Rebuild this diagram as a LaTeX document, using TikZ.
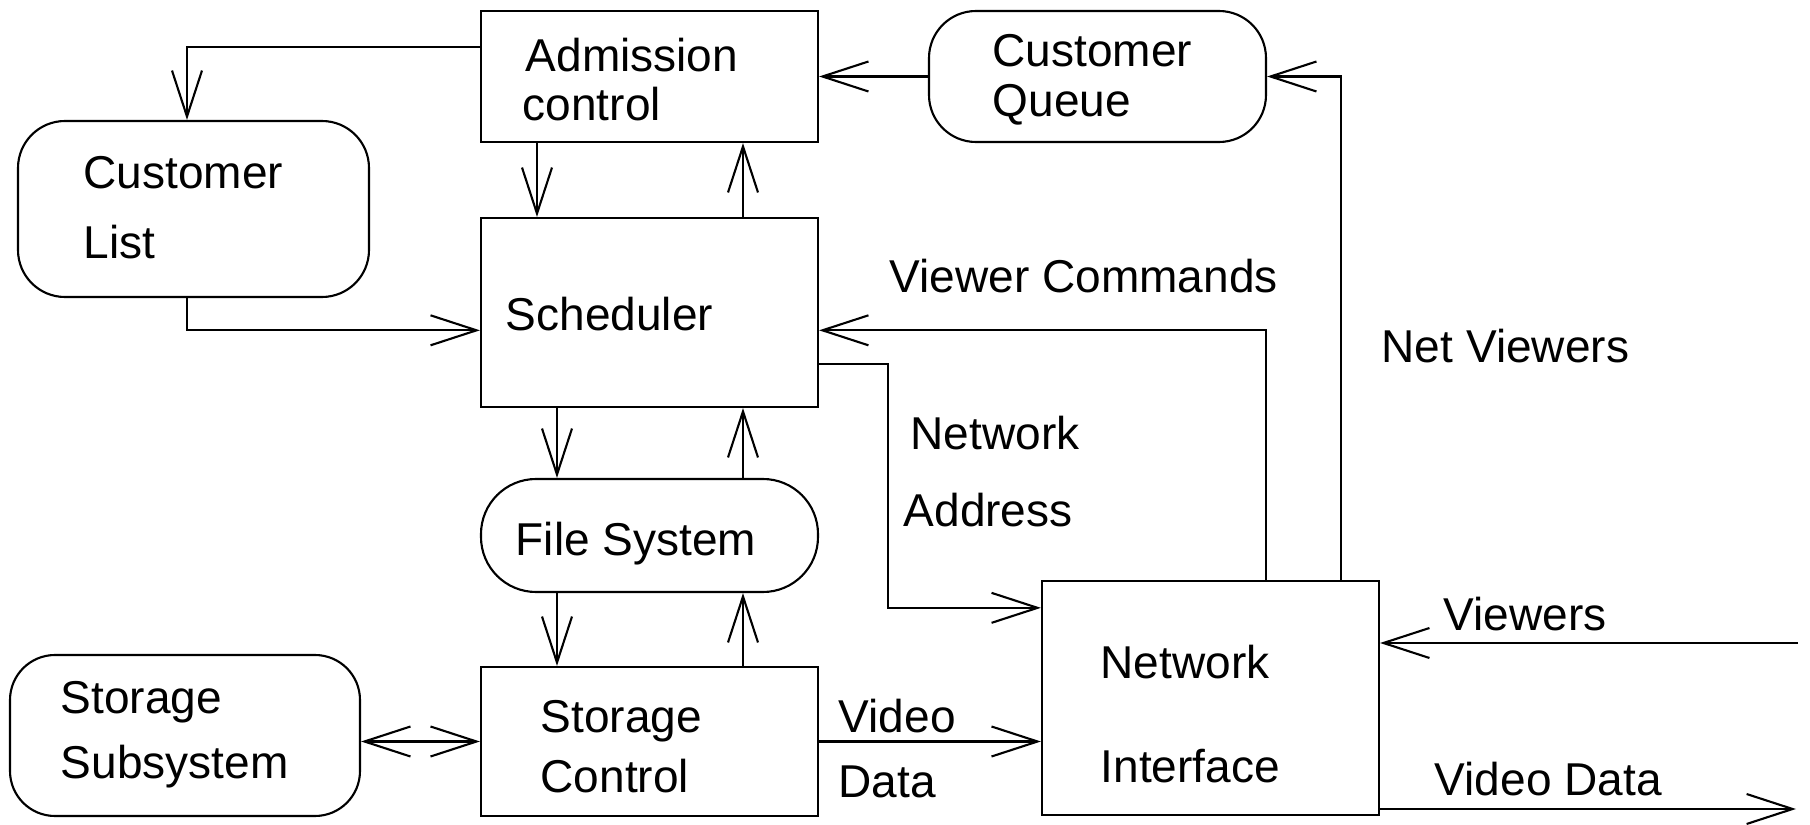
\documentclass[tikz,border=0pt]{standalone}
\usepackage{fontspec}
\setmainfont{Liberation Sans}
\usetikzlibrary{arrows.meta}

\tikzset{
	box/.style={draw, rectangle, line width=0.6pt, inner sep=0pt},
	store/.style={box, rounded corners=4.7mm},
	txt/.style={anchor=base west, inner sep=0pt},
	arr/.style={line width=0.6pt, -{Straight Barb[length=4.6mm, width=3mm]}},
	darr/.style={line width=0.6pt, {Straight Barb[length=4.6mm, width=3mm]}-{Straight Barb[length=4.6mm, width=3mm]}}
}

\begin{document}
\begin{tikzpicture}[x=0.1mm, y=-0.1mm, font=\fontsize{13.1}{15}\selectfont]
	\useasboundingbox (0,0) rectangle (1810,825);
	% boxes
	\node[box, minimum width=33.7mm, minimum height=13.1mm] (adm) at (649.5,76.5) {};
	\node[store, minimum width=33.7mm, minimum height=13.1mm] (cq) at (1097.5,76.5) {};
	\node[store, minimum width=35.1mm, minimum height=17.6mm] (cl) at (193.5,209) {};
	\node[box, minimum width=33.7mm, minimum height=18.9mm] (sched) at (649.5,312.5) {};
	\node[store, rounded corners=5.5mm, minimum width=33.7mm, minimum height=11.3mm] (fs) at (649.5,535.5) {};
	\node[box, minimum width=33.7mm, minimum height=14.9mm] (sc) at (649.5,741.5) {};
	\node[store, rounded corners=4.5mm, minimum width=35mm, minimum height=16.1mm] (ss) at (185,735.5) {};
	\node[box, minimum width=33.7mm, minimum height=23.4mm] (ni) at (1210.5,698) {};
	% texts
	\node[txt] (admtxt1) at (525,72) {Admission};
	\node[txt] (admtxt2) at (522,121) {control};
	\node[txt] (cqtxt1) at (992,67) {Customer};
	\node[txt] (cqtxt2) at (992,117) {Queue};
	\node[txt] (cltxt1) at (83,189) {Customer};
	\node[txt] (cltxt2) at (83,259) {List};
	\node[txt] (schedtxt) at (505,330) {Scheduler};
	\node[txt] (fstxt) at (515,556) {File System};
	\node[txt] (sctxt1) at (540,733) {Storage};
	\node[txt] (sctxt2) at (540,792) {Control};
	\node[txt] (sstxt1) at (60,713) {Storage};
	\node[txt] (sstxt2) at (60,778) {Subsystem};
	\node[txt] (nitxt1) at (1100,678) {Network};
	\node[txt] (nitxt2) at (1100,782) {Interface};
	\node[txt] (cmdlbl) at (889,293) {Viewer Commands};
	\node[txt] (netlbl) at (1381,363) {Net Viewers};
	\node[txt] (addrlbl1) at (910,449) {Network};
	\node[txt] (addrlbl2) at (903,527) {Address};
	\node[txt] (vidlbl1) at (838,733) {Video};
	\node[txt] (vidlbl2) at (838,797) {Data};
	\node[txt] (viewlbl) at (1443,630) {Viewers};
	\node[txt] (outlbl) at (1434,795) {Video Data};
	% free ends
	\coordinate (viewin) at (1798,643);
	\coordinate (vidout) at (1796,809);
	% connectors
	\draw[arr] (adm.170) -| ([xshift=-0.65mm]cl.north);
	\draw[arr] (cq.west) -- (adm.east);
	\draw[arr] ([xshift=-11.25mm]adm.south) -- ([xshift=-11.25mm]sched.north);
	\draw[arr] ([xshift=9.35mm]sched.north) -- ([xshift=9.35mm]adm.south);
	\draw[arr] ([xshift=-0.65mm]cl.south) |- (sched.186);
	\draw[arr] ([xshift=5.55mm]ni.north) |- (sched.354);
	\draw[arr] (sched.343) -- ++(69,0) |- (ni.152);
	\draw[arr] ([xshift=13.05mm]ni.north) |- (cq.east);
	\draw[arr] ([xshift=-9.25mm]sched.south) -- ([xshift=-9.25mm]fs.north);
	\draw[arr] ([xshift=9.35mm]fs.north) -- ([xshift=9.35mm]sched.south);
	\draw[arr] ([xshift=-9.25mm]fs.south) -- ([xshift=-9.25mm]sc.north);
	\draw[arr] ([xshift=9.35mm]sc.north) -- ([xshift=9.35mm]fs.south);
	\draw[darr] (ss.east |- sc.west) -- (sc.west);
	\draw[arr] (sc.east) -- (sc.east -| ni.west);
	\draw[arr] (viewin) -- (viewin -| ni.east);
	\draw[arr] (vidout -| ni.east) -- (vidout);
\end{tikzpicture}
\end{document}
